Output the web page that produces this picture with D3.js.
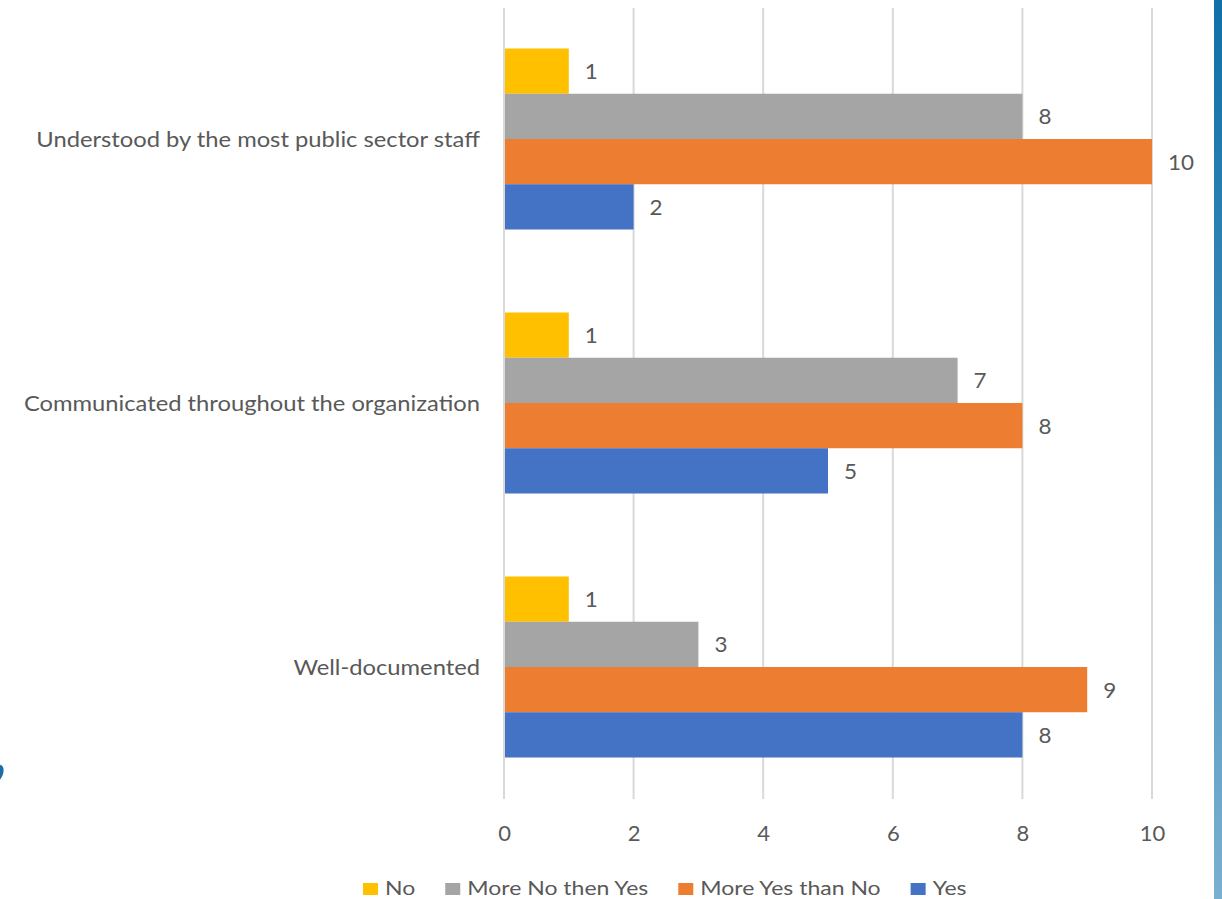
<!DOCTYPE html>
<html>
<head>
<meta charset="utf-8">
<script src="https://cdn.jsdelivr.net/npm/d3@7"></script>
<style>
  html, body { margin: 0; padding: 0; background: #ffffff; overflow: hidden; }
  svg { display: block; }
  text { font-family: Lato, "Open Sans", sans-serif; fill: #595959; }
</style>
</head>
<body>
<svg id="chart" width="1222" height="899"></svg>
<script>
// Survey answers per statement
const categories = [
  "Understood by the most public sector staff",
  "Communicated throughout the organization",
  "Well-documented"
];
const seriesNames = ["No", "More No then Yes", "More Yes than No", "Yes"];
const seriesColors = ["#FFC000", "#A5A5A5", "#ED7D31", "#4472C4"];
const noValues = [1, 1, 1];
const moreNoValues = [8, 7, 3];
const moreYesValues = [10, 8, 9];
const yesValues = [2, 5, 8];
const xTicks = [0, 2, 4, 6, 8, 10];

const seriesValues = [noValues, moreNoValues, moreYesValues, yesValues];

const W = 1222, H = 899;
const plot = { left: 504, right: 1152, top: 7, bottom: 799 };

const svg = d3.select("#chart");

// text that is slightly widened horizontally, like the slide rendering
function wideText(parent, x, y, str, size, sx, anchor) {
  const g = parent.append("g").attr("transform", `translate(${x},${y}) scale(${sx},1)`);
  return g.append("text")
    .attr("x", 0).attr("y", 0).attr("dy", "0.36em")
    .attr("text-anchor", anchor || "start")
    .style("font-size", size + "px")
    .text(str);
}

// slide decoration: gradient strip on the right edge
const defs = svg.append("defs");
const grad = defs.append("linearGradient")
  .attr("id", "edgeGrad").attr("x1", 0).attr("y1", 0).attr("x2", 0).attr("y2", 1);
grad.append("stop").attr("offset", "0%").attr("stop-color", "#1070a8");
grad.append("stop").attr("offset", "100%").attr("stop-color", "#7aafd0");
svg.append("rect")
  .attr("x", 1214).attr("y", 0).attr("width", W - 1214).attr("height", H)
  .attr("fill", "url(#edgeGrad)");

// stray slide glyph at the left margin
svg.append("text")
  .attr("x", -9).attr("y", 774)
  .style("font-size", "66px").style("font-weight", "bold")
  .style("fill", "#1a6ea6")
  .text(",");

const x = d3.scaleLinear().domain([0, 10]).range([plot.left, plot.right]);

const y = d3.scaleBand()
  .domain(categories)
  .range([plot.top, plot.bottom])
  .paddingInner(0.3144)
  .paddingOuter(0.1572);

const yInner = d3.scaleBand()
  .domain(seriesNames)
  .range([0, y.bandwidth()])
  .padding(0);

// vertical gridlines
svg.append("g")
  .selectAll("line")
  .data(xTicks)
  .join("line")
  .attr("x1", d => x(d)).attr("x2", d => x(d))
  .attr("y1", plot.top + 1).attr("y2", plot.bottom)
  .attr("stroke", "#d9d9d9")
  .attr("stroke-width", 2);

// bars and value labels
const groups = svg.append("g")
  .selectAll("g")
  .data(categories)
  .join("g")
  .attr("transform", d => `translate(0,${y(d)})`);

groups.each(function (cat, ci) {
  const g = d3.select(this);
  const rows = seriesNames.map((s, si) => ({ s, si, v: seriesValues[si][ci] }));
  g.selectAll("rect")
    .data(rows)
    .join("rect")
    .attr("x", x(0) + 1)
    .attr("y", d => yInner(d.s))
    .attr("width", d => x(d.v) - x(0) - 1)
    .attr("height", yInner.bandwidth())
    .attr("fill", d => seriesColors[d.si]);
  rows.forEach(d => {
    wideText(g, x(d.v) + 16, yInner(d.s) + yInner.bandwidth() / 2, d.v, 22, 1.02);
  });
});

// category labels
categories.forEach(c => {
  wideText(svg, 480, y(c) + y.bandwidth() / 2, c, 22, 1.08, "end");
});

// x axis tick labels
const xAxis = d3.axisBottom(x).tickValues(xTicks).tickSize(0).tickPadding(0);
const axisG = svg.append("g")
  .attr("transform", `translate(0,${plot.bottom})`)
  .call(xAxis);
axisG.select(".domain").remove();
axisG.selectAll("text")
  .attr("y", 34)
  .attr("dy", "0.36em")
  .style("font-size", "22px")
  .style("font-family", "Lato, 'Open Sans', sans-serif")
  .attr("fill", "#595959");

// legend
const legend = svg.append("g").attr("transform", "translate(363,888)");
let lx = 0;
seriesNames.forEach((name, i) => {
  const item = legend.append("g").attr("transform", `translate(${lx},0)`);
  item.append("rect")
    .attr("x", 0).attr("y", -5).attr("width", 15).attr("height", 12)
    .attr("fill", seriesColors[i]);
  const sx = 1.15;
  const t = wideText(item, 22, 0, name, 20, sx);
  lx += 22 + t.node().getComputedTextLength() * sx + 30;
});
</script>
</body>
</html>
